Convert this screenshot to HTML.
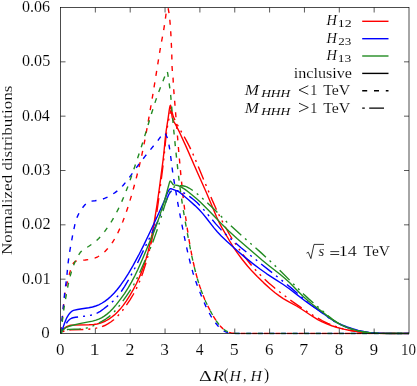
<!DOCTYPE html><html><head><meta charset="utf-8"><title>plot</title><style>
html,body{margin:0;padding:0;background:#fff;}
body{width:417px;height:386px;position:relative;overflow:hidden;font-family:"Liberation Serif",serif;color:#000;}
svg{display:block;will-change:transform}

</style></head><body>
<svg width="417" height="386" viewBox="0 0 417 386" style="position:absolute;left:0;top:0">
<defs><clipPath id="c"><rect x="60.5" y="7.5" width="348.5" height="327.0"/></clipPath></defs>
<g fill="none" stroke-width="1.4" stroke-linejoin="round" clip-path="url(#c)">
<path d="M60.50,333.50 L61.50,326.26 L62.25,319.60 L63.50,305.95 L64.75,295.06 L65.50,290.15 L66.50,285.27 L69.00,275.37 L70.25,271.10 L72.25,265.58 L73.00,263.90 L73.75,262.75 L75.00,261.72 L76.25,260.97 L77.25,260.60 L79.50,260.34 L85.25,260.06 L89.50,259.51 L92.50,258.83 L95.25,257.90 L97.75,256.77 L100.25,255.30 L102.50,253.65 L105.00,251.44 L107.50,248.83 L110.00,245.81 L112.50,242.31 L115.00,238.26 L117.50,233.57 L120.00,228.24 L122.75,221.66 L125.75,213.63 L128.75,204.65 L132.00,193.83 L135.75,180.18 L139.00,167.35 L141.75,155.36 L144.50,141.94 L147.75,124.36 L152.75,95.19 L158.75,58.12 L160.75,45.62 L162.25,37.81 L163.50,31.33 L165.25,19.85 L166.75,8.67 L167.00,6.32 L167.25,2.60 L167.50,1.94 L168.00,7.50 L169.00,12.80 L169.75,18.97 L170.50,27.90 L171.00,36.54 L171.75,52.61 L172.00,65.71 L172.25,69.74 L173.00,77.05 L173.50,86.74 L178.75,151.82 L181.00,176.57 L183.00,195.82 L185.00,212.53 L187.00,227.00 L189.25,241.19 L191.50,253.61 L193.50,263.28 L195.50,271.74 L197.50,279.09 L199.75,286.32 L202.25,293.33 L204.75,299.48 L207.50,305.45 L210.50,311.24 L213.75,316.91 L216.50,321.19 L218.75,324.26 L221.00,326.87 L223.00,328.78 L225.00,330.32 L227.00,331.49 L229.00,332.33 L231.25,332.94 L234.00,333.31 L238.25,333.48 L409.50,333.50" stroke="#ff0000" stroke-dasharray="5 6.6" stroke-dashoffset="-1.3"/>
<path d="M60.50,333.50 L62.00,332.13 L63.00,331.50 L65.50,330.56 L67.50,330.10 L71.25,329.85 L85.50,329.41 L90.75,328.99 L95.25,328.36 L99.00,327.55 L102.00,326.63 L104.75,325.51 L107.75,323.94 L110.75,322.01 L113.75,319.71 L116.75,317.01 L119.50,314.13 L122.50,310.53 L126.00,305.79 L130.00,299.82 L133.25,294.49 L135.75,289.89 L138.00,285.20 L140.25,279.84 L142.75,273.05 L145.25,265.37 L147.75,256.76 L150.00,248.07 L152.00,239.31 L154.00,229.23 L156.00,217.57 L158.25,202.48 L161.25,179.62 L163.50,161.71 L164.75,149.58 L165.75,138.88 L166.75,130.91 L167.75,124.86 L170.00,113.56 L170.50,111.65 L170.75,111.00 L171.00,110.60 L171.25,110.51 L171.50,110.72 L171.75,111.20 L172.50,113.63 L173.25,116.32 L174.25,118.69 L176.75,123.53 L180.00,129.37 L186.25,140.44 L189.75,147.11 L192.75,153.48 L196.75,162.89 L212.00,199.63 L216.25,209.19 L220.00,216.96 L224.50,225.51 L229.50,234.50 L232.75,239.82 L237.50,246.85 L243.50,255.25 L248.75,262.06 L253.50,267.73 L258.25,272.92 L263.25,277.93 L268.75,282.99 L274.75,288.08 L282.25,293.98 L292.50,301.58 L301.50,307.92 L309.00,312.87 L316.25,317.29 L322.50,320.76 L327.75,323.35 L332.50,325.38 L337.50,327.18 L342.75,328.73 L348.50,330.09 L355.00,331.28 L362.00,332.25 L369.25,332.93 L376.75,333.32 L388.00,333.49 L409.50,333.50" stroke="#ff0000" stroke-dasharray="14 5 2 5 2 5" stroke-dashoffset="-9.8"/>
<path d="M60.50,333.50 L61.75,331.34 L63.50,329.20 L65.00,327.72 L66.00,327.01 L68.50,325.91 L70.50,325.28 L72.00,325.10 L89.00,324.78 L93.75,324.45 L97.00,323.99 L99.75,323.33 L102.50,322.38 L105.50,321.01 L108.50,319.32 L111.50,317.29 L114.50,314.89 L117.25,312.32 L120.00,309.35 L123.00,305.64 L126.25,301.11 L129.75,295.68 L133.25,289.67 L136.25,283.96 L139.00,278.11 L141.50,272.12 L143.75,266.01 L146.00,259.03 L148.00,251.92 L150.00,243.72 L152.00,234.25 L154.25,222.00 L156.75,206.53 L159.25,189.16 L163.00,160.61 L164.00,151.68 L165.25,138.50 L166.25,130.38 L168.25,117.43 L169.25,110.06 L169.75,107.16 L170.00,106.12 L170.25,105.44 L170.50,105.20 L170.75,106.02 L171.75,114.32 L172.25,117.67 L172.75,119.36 L173.50,121.08 L175.50,124.31 L179.50,132.18 L186.00,146.34 L197.75,173.34 L206.25,192.28 L211.50,204.74 L216.50,216.74 L219.25,222.69 L222.00,227.94 L230.25,241.98 L234.00,248.06 L237.50,253.18 L242.25,259.50 L247.50,265.99 L252.00,271.10 L257.25,276.58 L263.75,282.86 L270.25,288.76 L275.00,292.74 L279.25,295.93 L283.25,298.56 L288.50,301.58 L296.50,306.00 L301.75,309.25 L313.00,316.71 L317.75,319.55 L322.25,321.88 L326.75,323.87 L331.75,325.74 L337.25,327.47 L343.50,329.08 L350.25,330.49 L357.50,331.67 L364.75,332.55 L372.00,333.11 L380.25,333.41 L398.50,333.50 L409.50,333.50" stroke="#ff0000" />
<path d="M60.50,333.50 L62.75,312.61 L65.00,289.80 L66.50,279.73 L67.00,274.60 L67.75,265.94 L68.75,257.91 L70.00,249.83 L73.00,233.25 L75.00,223.98 L76.00,220.29 L77.50,216.35 L79.00,213.14 L80.50,210.52 L82.25,208.08 L84.75,205.00 L86.50,203.22 L87.75,202.26 L89.00,201.62 L91.25,201.12 L95.00,200.69 L98.00,200.25 L101.75,199.36 L104.50,198.42 L107.75,196.95 L111.50,194.90 L115.00,192.66 L117.75,190.58 L120.25,188.35 L123.00,185.45 L126.25,181.51 L131.25,174.80 L139.75,163.10 L145.00,156.39 L158.00,140.45 L160.75,136.56 L162.25,134.54 L163.75,133.10 L164.25,132.82 L164.50,132.81 L164.75,132.96 L165.25,133.63 L166.50,135.96 L167.25,137.76 L168.00,140.24 L168.75,143.59 L169.75,149.63 L171.00,158.96 L172.50,170.92 L174.25,182.03 L177.75,202.79 L181.00,220.22 L185.00,239.97 L188.25,254.77 L190.75,264.93 L193.00,272.93 L195.25,279.91 L198.25,288.09 L202.50,298.68 L205.75,306.14 L208.25,311.26 L210.75,315.78 L213.50,320.12 L216.00,323.57 L218.25,326.26 L220.25,328.28 L222.25,329.93 L224.25,331.21 L226.25,332.14 L228.25,332.76 L230.75,333.21 L234.25,333.45 L255.75,333.50 L409.50,333.50" stroke="#0000ff" stroke-dasharray="5 6.6" stroke-dashoffset="-1.0"/>
<path d="M60.50,333.50 L61.75,331.87 L63.00,329.73 L66.75,322.75 L67.50,321.64 L69.25,319.80 L70.50,318.80 L71.50,318.24 L73.00,317.74 L75.50,317.28 L84.00,316.28 L89.00,315.62 L92.25,314.92 L95.00,314.02 L97.50,312.90 L100.25,311.32 L103.50,309.04 L109.25,304.47 L113.00,301.19 L115.75,298.43 L118.50,295.21 L121.25,291.50 L124.50,286.58 L128.50,279.88 L133.25,271.30 L137.25,263.52 L143.25,250.84 L147.75,241.55 L154.25,228.68 L158.00,220.59 L163.75,207.07 L168.25,195.66 L169.00,194.20 L170.50,191.92 L171.25,191.15 L171.75,190.91 L174.75,190.63 L177.00,190.64 L179.00,190.97 L181.00,191.56 L183.50,192.64 L185.50,193.74 L189.75,196.59 L193.50,199.52 L197.25,202.84 L200.75,206.34 L205.00,211.10 L216.00,224.14 L221.00,229.64 L225.25,233.89 L231.25,239.32 L240.75,247.45 L253.50,257.85 L281.25,279.93 L290.50,287.40 L298.00,293.87 L306.00,300.88 L310.75,304.68 L323.75,314.13 L329.75,318.51 L333.75,321.10 L337.75,323.33 L342.25,325.47 L347.25,327.49 L352.25,329.18 L357.25,330.55 L362.50,331.66 L367.75,332.46 L373.50,333.02 L380.50,333.36 L392.75,333.49 L409.50,333.50" stroke="#0000ff" stroke-dasharray="14 5 2 5 2 5" stroke-dashoffset="-11.8"/>
<path d="M60.50,333.50 L61.50,331.71 L62.25,329.86 L64.25,324.08 L66.00,319.43 L67.00,317.32 L68.50,314.87 L69.75,313.27 L71.50,311.55 L72.50,310.82 L73.50,310.44 L77.50,309.49 L82.00,308.71 L88.75,307.78 L92.50,306.99 L95.75,306.01 L98.75,304.79 L101.75,303.25 L104.75,301.36 L107.75,299.11 L110.75,296.48 L114.00,293.19 L117.25,289.47 L120.75,284.97 L124.50,279.60 L128.50,273.30 L133.00,265.57 L138.50,255.45 L143.75,245.15 L150.75,230.53 L158.75,213.25 L164.00,201.43 L166.00,196.55 L167.50,192.76 L169.25,189.67 L169.75,189.04 L170.25,188.72 L171.00,188.75 L172.25,189.11 L177.50,191.12 L179.00,191.90 L181.00,193.42 L188.50,199.72 L195.00,205.61 L199.25,209.80 L202.75,213.65 L206.50,218.25 L213.75,227.66 L217.25,231.78 L221.25,235.99 L226.75,241.22 L237.00,250.52 L244.75,257.15 L252.50,263.40 L260.00,269.05 L266.75,273.79 L275.25,279.30 L283.25,284.48 L289.25,288.71 L297.25,294.82 L305.50,301.19 L311.00,305.08 L319.75,310.98 L330.00,318.41 L334.00,320.97 L337.75,323.02 L342.00,324.99 L347.00,326.95 L352.50,328.78 L358.25,330.35 L363.75,331.55 L369.25,332.43 L375.00,333.02 L381.75,333.36 L393.50,333.49 L409.50,333.50" stroke="#0000ff" />
<path d="M60.50,333.50 L62.50,319.77 L64.25,306.32 L65.50,299.21 L68.25,284.20 L70.00,276.74 L71.50,271.42 L73.25,266.19 L74.75,262.41 L77.00,257.84 L79.00,254.35 L80.50,252.22 L81.75,250.85 L83.50,249.42 L85.25,248.32 L88.50,246.49 L93.25,243.24 L96.25,240.85 L98.75,238.49 L101.50,235.45 L104.75,231.32 L108.75,225.72 L112.00,220.69 L115.00,215.47 L118.25,209.14 L121.75,201.63 L125.00,193.96 L128.00,186.11 L132.75,172.45 L140.50,149.54 L144.50,136.81 L151.75,112.75 L155.75,100.36 L159.00,91.19 L164.25,77.77 L165.75,73.99 L166.75,71.46 L167.00,71.20 L167.25,71.53 L167.50,72.44 L168.00,75.43 L170.00,89.42 L170.75,96.05 L173.50,127.77 L175.75,150.41 L178.50,175.56 L180.50,191.46 L182.50,205.20 L185.00,220.22 L188.75,240.71 L191.75,255.79 L194.00,265.89 L196.25,274.75 L198.50,282.47 L200.75,289.25 L203.25,295.88 L205.75,301.74 L208.50,307.45 L211.75,313.49 L214.75,318.52 L217.25,322.26 L219.50,325.18 L221.50,327.38 L223.50,329.20 L225.50,330.64 L227.50,331.73 L229.50,332.50 L231.75,333.03 L234.50,333.35 L239.50,333.49 L409.50,333.50" stroke="#228b22" stroke-dasharray="5 6.6"/>
<path d="M60.50,333.50 L62.25,331.99 L63.75,331.09 L66.00,330.00 L67.50,329.52 L69.00,329.37 L79.50,329.04 L83.25,328.70 L86.25,328.14 L89.50,327.22 L93.00,325.89 L97.25,323.91 L102.25,321.21 L105.75,319.05 L108.75,316.87 L111.50,314.52 L114.50,311.53 L117.50,308.10 L121.00,303.61 L126.50,295.90 L130.75,289.53 L133.75,284.57 L136.50,279.45 L139.50,273.13 L151.00,246.64 L153.75,239.63 L156.75,231.12 L160.25,220.17 L165.25,203.79 L167.25,198.00 L168.75,194.36 L170.00,191.88 L171.25,189.91 L172.50,188.42 L173.75,187.34 L175.00,186.60 L176.50,186.04 L178.25,185.70 L180.50,185.60 L182.75,185.78 L184.75,186.21 L186.75,186.91 L189.00,188.02 L191.75,189.75 L196.00,192.86 L200.50,196.56 L206.25,201.81 L216.00,211.04 L222.75,218.01 L227.00,222.25 L240.50,234.54 L261.25,252.86 L271.25,262.08 L281.50,271.97 L295.00,285.53 L303.75,294.28 L309.25,299.37 L321.50,309.98 L328.75,316.39 L332.50,319.36 L336.00,321.78 L339.75,323.99 L343.75,325.98 L348.00,327.76 L352.50,329.31 L357.25,330.61 L362.25,331.67 L367.75,332.50 L373.50,333.05 L380.50,333.37 L393.50,333.50 L409.50,333.50" stroke="#228b22" stroke-dasharray="14 5 2 5 2 5" stroke-dashoffset="-7.5"/>
<path d="M60.50,333.50 L61.75,331.32 L63.25,329.67 L64.75,328.40 L66.25,327.47 L69.00,326.31 L71.75,325.46 L79.50,323.66 L92.50,321.09 L96.00,320.16 L98.75,319.15 L101.50,317.83 L104.25,316.17 L107.00,314.14 L109.75,311.73 L112.75,308.67 L116.25,304.61 L120.50,299.16 L124.50,293.56 L128.00,288.16 L131.50,282.20 L134.75,276.04 L138.00,269.23 L142.50,258.93 L153.25,233.40 L156.50,225.00 L159.50,216.39 L164.00,202.35 L166.50,193.49 L168.25,186.83 L169.50,182.37 L169.75,181.67 L170.00,181.22 L170.25,181.10 L170.50,181.18 L171.00,181.60 L172.75,184.19 L173.25,184.68 L174.00,184.93 L177.75,185.51 L179.25,186.03 L181.75,187.39 L185.00,189.43 L188.75,192.24 L195.75,197.97 L200.25,202.01 L207.00,208.69 L215.00,216.99 L222.50,224.86 L228.75,230.92 L237.00,238.50 L262.25,260.26 L269.00,265.70 L280.00,274.22 L285.00,278.44 L290.00,283.10 L297.50,290.69 L303.50,296.70 L307.75,300.58 L312.25,304.25 L322.00,311.68 L329.50,317.58 L333.50,320.40 L337.50,322.85 L341.75,325.07 L346.25,327.06 L350.75,328.73 L355.50,330.16 L360.50,331.33 L365.75,332.23 L371.25,332.87 L377.75,333.28 L387.00,333.47 L409.50,333.50" stroke="#228b22" />
</g>
<rect x="60.5" y="7.5" width="348.5" height="326.0" fill="none" stroke="#000" stroke-width="0.7"/>
<path d="M95.35,333.5 v-5 M95.35,7.5 v5 M130.20,333.5 v-5 M130.20,7.5 v5 M165.05,333.5 v-5 M165.05,7.5 v5 M199.90,333.5 v-5 M199.90,7.5 v5 M234.75,333.5 v-5 M234.75,7.5 v5 M269.60,333.5 v-5 M269.60,7.5 v5 M304.45,333.5 v-5 M304.45,7.5 v5 M339.30,333.5 v-5 M339.30,7.5 v5 M374.15,333.5 v-5 M374.15,7.5 v5 M60.5,279.17 h5 M409.0,279.17 h-5 M60.5,224.83 h5 M409.0,224.83 h-5 M60.5,170.50 h5 M409.0,170.50 h-5 M60.5,116.17 h5 M409.0,116.17 h-5 M60.5,61.83 h5 M409.0,61.83 h-5" stroke="#000" stroke-width="0.65" fill="none"/>
<g fill="none" stroke-width="1.4">
<path d="M362.2,21.3 H388.5" stroke="#ff0000"/>
<path d="M362.2,38.7 H388.5" stroke="#0000ff"/>
<path d="M362.2,56.0 H388.5" stroke="#228b22"/>
<path d="M362.2,73.4 H388.5" stroke="#000"/>
<path d="M362.2,90.7 H388.5" stroke="#000" stroke-dasharray="5 6.8"/>
<path d="M362.2,108.1 H388.5" stroke="#000" stroke-dasharray="2.6 4.4 14.8 50"/>
</g>
<g font-family="Liberation Serif" fill="#000" stroke="#fff" stroke-width="0.12"><text x="41.27" y="338.00" font-size="16.8" textLength="8.48" lengthAdjust="spacingAndGlyphs">0</text>
<text x="21.99" y="283.67" font-size="16.8" textLength="28.58" lengthAdjust="spacingAndGlyphs">0.01</text>
<text x="21.99" y="229.33" font-size="16.8" textLength="28.58" lengthAdjust="spacingAndGlyphs">0.02</text>
<text x="22.00" y="175.00" font-size="16.8" textLength="28.20" lengthAdjust="spacingAndGlyphs">0.03</text>
<text x="22.01" y="120.67" font-size="16.8" textLength="27.83" lengthAdjust="spacingAndGlyphs">0.04</text>
<text x="22.00" y="66.33" font-size="16.8" textLength="28.20" lengthAdjust="spacingAndGlyphs">0.05</text>
<text x="22.00" y="12.00" font-size="16.8" textLength="28.08" lengthAdjust="spacingAndGlyphs">0.06</text>
<text x="55.97" y="355.30" font-size="16.8" textLength="8.48" lengthAdjust="spacingAndGlyphs">0</text>
<text x="89.61" y="355.30" font-size="16.8" textLength="10.28" lengthAdjust="spacingAndGlyphs">1</text>
<text x="125.50" y="355.30" font-size="16.8" textLength="8.95" lengthAdjust="spacingAndGlyphs">2</text>
<text x="160.38" y="355.30" font-size="16.8" textLength="8.63" lengthAdjust="spacingAndGlyphs">3</text>
<text x="195.65" y="355.30" font-size="16.8" textLength="7.80" lengthAdjust="spacingAndGlyphs">4</text>
<text x="229.78" y="355.30" font-size="16.8" textLength="8.95" lengthAdjust="spacingAndGlyphs">5</text>
<text x="264.94" y="355.30" font-size="16.8" textLength="8.48" lengthAdjust="spacingAndGlyphs">6</text>
<text x="299.35" y="355.30" font-size="16.8" textLength="8.95" lengthAdjust="spacingAndGlyphs">7</text>
<text x="334.77" y="355.30" font-size="16.8" textLength="8.48" lengthAdjust="spacingAndGlyphs">8</text>
<text x="369.75" y="355.30" font-size="16.8" textLength="8.33" lengthAdjust="spacingAndGlyphs">9</text>
<text x="401.06" y="355.30" font-size="16.8" textLength="15.03" lengthAdjust="spacingAndGlyphs">10</text>
<text x="199.07" y="380.60" font-size="15" textLength="12.84" lengthAdjust="spacingAndGlyphs">Δ</text>
<text x="212.66" y="380.60" font-size="15" font-style="italic" textLength="11.41" lengthAdjust="spacingAndGlyphs">R</text>
<text x="223.74" y="380.30" font-size="16" textLength="4.66" lengthAdjust="spacingAndGlyphs">(</text>
<text x="229.43" y="380.60" font-size="15" font-style="italic" textLength="11.38" lengthAdjust="spacingAndGlyphs">H</text>
<text x="242.91" y="380.60" font-size="15" textLength="3.53" lengthAdjust="spacingAndGlyphs">,</text>
<text x="250.43" y="380.60" font-size="15" font-style="italic" textLength="11.47" lengthAdjust="spacingAndGlyphs">H</text>
<text x="264.12" y="380.30" font-size="16" textLength="5.17" lengthAdjust="spacingAndGlyphs">)</text>
<g transform="translate(11.7,255) rotate(-90)"><text x="-0.14" y="0.00" font-size="14.5" textLength="169.52" lengthAdjust="spacingAndGlyphs">Normalized distributions</text></g>
<text x="326.52" y="25.15" font-size="14.5" font-style="italic" textLength="10.44" lengthAdjust="spacingAndGlyphs">H</text>
<text x="337.74" y="27.45" font-size="10.5" stroke-width="0.05" textLength="13.88" lengthAdjust="spacingAndGlyphs">12</text>
<text x="326.52" y="42.62" font-size="14.5" font-style="italic" textLength="10.44" lengthAdjust="spacingAndGlyphs">H</text>
<text x="338.28" y="44.92" font-size="10.5" stroke-width="0.05" textLength="12.98" lengthAdjust="spacingAndGlyphs">23</text>
<text x="326.52" y="60.09" font-size="14.5" font-style="italic" textLength="10.44" lengthAdjust="spacingAndGlyphs">H</text>
<text x="337.77" y="62.39" font-size="10.5" stroke-width="0.05" textLength="13.51" lengthAdjust="spacingAndGlyphs">13</text>
<text x="293.72" y="77.56" font-size="14.5" textLength="58.32" lengthAdjust="spacingAndGlyphs">inclusive</text>
<text x="244.75" y="95.03" font-size="14.5" font-style="italic" textLength="14.28" lengthAdjust="spacingAndGlyphs">M</text>
<text x="261.16" y="97.33" font-size="10.5" font-style="italic" stroke-width="0.05" textLength="29.10" lengthAdjust="spacingAndGlyphs">HHH</text>
<text x="310.28" y="95.03" font-size="14.5" textLength="7.07" lengthAdjust="spacingAndGlyphs">1</text>
<text x="323.23" y="95.03" font-size="14.5" textLength="27.13" lengthAdjust="spacingAndGlyphs">TeV</text>
<text x="244.75" y="112.50" font-size="14.5" font-style="italic" textLength="14.28" lengthAdjust="spacingAndGlyphs">M</text>
<text x="261.16" y="114.80" font-size="10.5" font-style="italic" stroke-width="0.05" textLength="29.10" lengthAdjust="spacingAndGlyphs">HHH</text>
<text x="310.28" y="112.50" font-size="14.5" textLength="7.07" lengthAdjust="spacingAndGlyphs">1</text>
<text x="323.23" y="112.50" font-size="14.5" textLength="27.13" lengthAdjust="spacingAndGlyphs">TeV</text>
<text x="318.64" y="256.00" font-size="14.5" font-style="italic" textLength="5.80" lengthAdjust="spacingAndGlyphs">s</text>
<text x="338.75" y="256.00" font-size="14.5" textLength="17.96" lengthAdjust="spacingAndGlyphs">14</text>
<text x="363.53" y="256.00" font-size="14.5" textLength="26.52" lengthAdjust="spacingAndGlyphs">TeV</text></g>
<path d="M306.5,253.2 L308.3,252.2 L310.9,258.6 L314.0,244.4 H324.0" fill="none" stroke="#000" stroke-width="0.8"/><path d="M308.3,85.73 L299.0,90.03 L308.3,94.33" fill="none" stroke="#000" stroke-width="0.85"/><path d="M299.0,103.20 L308.3,107.50 L299.0,111.80" fill="none" stroke="#000" stroke-width="0.85"/><path d="M330.3,251.6 H339.2 M330.3,254.5 H339.2" fill="none" stroke="#000" stroke-width="0.8"/>
</svg>
</body></html>
